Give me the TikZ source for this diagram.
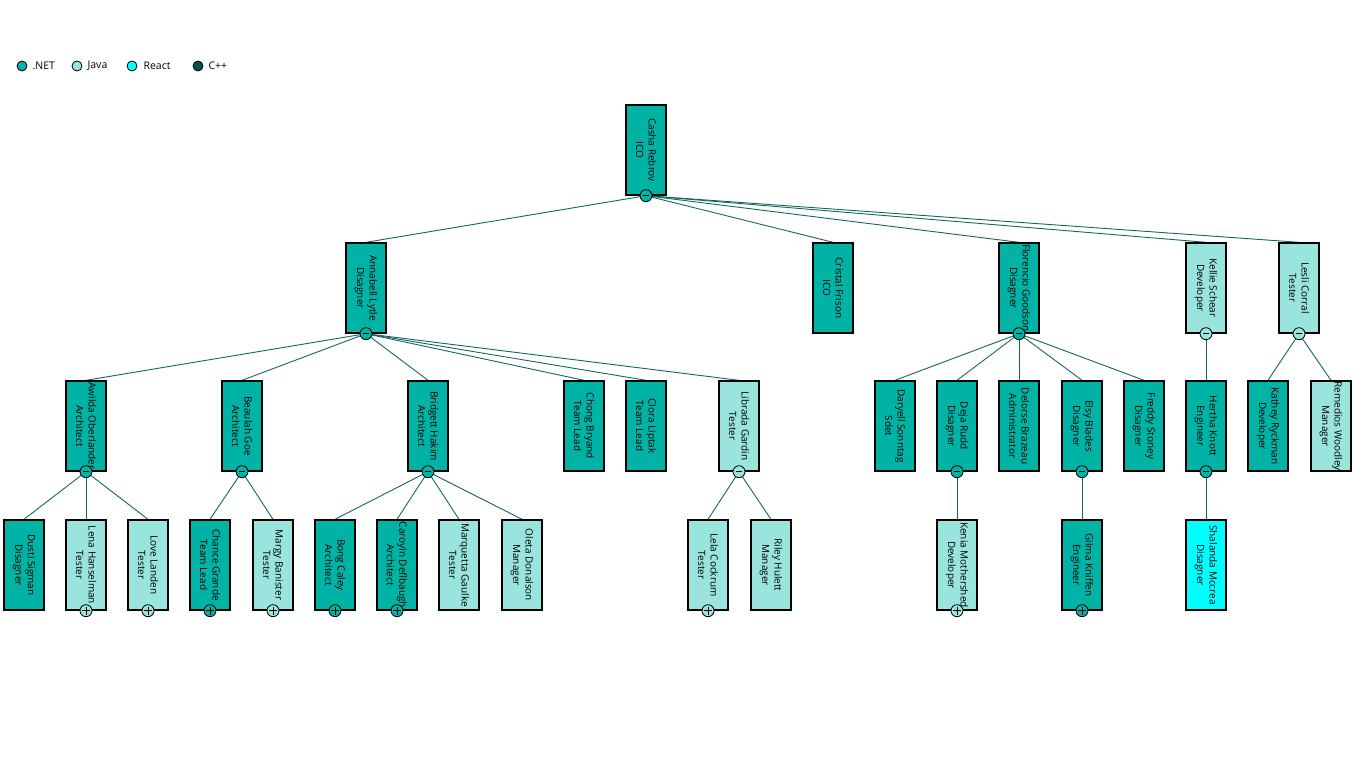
\documentclass[tikz,border=0pt]{standalone}
\usepackage{fontspec}
\setmainfont{Open Sans}
\usetikzlibrary{
  positioning,
  backgrounds
}

\definecolor{dotnet}{HTML}{01B3A5}
\definecolor{java}{HTML}{99E4DC}
\definecolor{react}{HTML}{00FFFF}
\definecolor{cpp}{HTML}{03544B}
\definecolor{wirecol}{HTML}{13675F}

\tikzset{
  card/.style={draw=black,line width=1.4pt,minimum width=40pt,minimum height=90pt,inner sep=0pt},
  net/.style={card,fill=dotnet},
  jv/.style={card,fill=java},
  rct/.style={card,fill=react},
  caption/.style={rotate=-90,align=center,inner sep=0pt,
    font=\fontsize{10}{12.5}\selectfont,text=black},
  btn/.style={circle,draw=black,line width=.8pt,minimum size=12pt,inner sep=0pt},
  wire/.style={draw=wirecol,line width=.9pt},
  key/.style={circle,draw=black,line width=.8pt,minimum size=10pt,inner sep=0pt},
  keytext/.style={inner sep=0pt,font=\fontsize{10.5}{12}\selectfont,text=black}
}

% box with its rotated caption
\newcommand{\emp}[5]{%
  \node[#4] (#1) at (#2,#3) {};
  \node[caption] (#1-txt) at (#1.center) {#5};}
% toggle buttons
\newcommand{\collapsebtn}[2]{%
  \node[btn,fill=#2] (#1-btn) at (#1.south) {};
  \draw[line width=.8pt] ([xshift=-3.2pt]#1-btn.center) -- ([xshift=3.2pt]#1-btn.center);}
\newcommand{\expandbtn}[2]{%
  \node[btn,fill=#2] (#1-btn) at (#1.south) {};
  \draw[line width=.8pt] ([xshift=-4pt]#1-btn.center) -- ([xshift=4pt]#1-btn.center)
    ([yshift=-4pt]#1-btn.center) -- ([yshift=4pt]#1-btn.center);}
\newcommand{\wireto}[2]{\draw[wire] (#1-btn.center) -- (#2.north);}

\begin{document}
\begin{tikzpicture}[x=1pt,y=-1pt]
  \useasboundingbox (0,0) rectangle (1366,768);

  % legend
  \node[key,fill=dotnet] (k-net) at (22,66) {};
  \node[keytext,right=5pt of k-net] (k-net-l) {.NET};
  \node[key,fill=java] (k-java) at (77,66) {};
  \node[keytext,right=5pt of k-java] (k-java-l) {Java};
  \node[key,fill=react] (k-react) at (132,66) {};
  \node[keytext,right=6pt of k-react] (k-react-l) {React};
  \node[key,fill=cpp] (k-cpp) at (198,66) {};
  \node[keytext,right=5pt of k-cpp] (k-cpp-l) {C++};

  % level 0
  \emp{casha}{646}{150}{net}{Casha Rebrov\\ICO}
  \collapsebtn{casha}{dotnet}

  % level 1
  \emp{annabell}{366}{288}{net}{Annabell Lytle\\Disagner}
  \collapsebtn{annabell}{dotnet}
  \emp{cristal}{833}{288}{net}{Cristal Frison\\ICO}
  \emp{florencio}{1019}{288}{net}{Florencio Goodson\\Disagner}
  \collapsebtn{florencio}{dotnet}
  \emp{kellie}{1206}{288}{jv}{Kellie Schear\\Developer}
  \collapsebtn{kellie}{java}
  \emp{lesli}{1299}{288}{jv}{Lesli Corral\\Tester}
  \collapsebtn{lesli}{java}

  % level 2
  \emp{awilda}{86}{426}{net}{Awilda Oberlander\\Architect}
  \collapsebtn{awilda}{dotnet}
  \emp{beaulah}{242}{426}{net}{Beaulah Goe\\Architect}
  \collapsebtn{beaulah}{dotnet}
  \emp{bridgett}{428}{426}{net}{Bridgett Hakim\\Architect}
  \collapsebtn{bridgett}{dotnet}
  \emp{chong}{584}{426}{net}{Chong Bryand\\Team Lead}
  \emp{clora}{646}{426}{net}{Clora Liptak\\Team Lead}
  \emp{librada}{739}{426}{jv}{Librada Gardin\\Tester}
  \collapsebtn{librada}{java}
  \emp{daryell}{895}{426}{net}{Daryell Sonntag\\Sdet}
  \emp{deja}{957}{426}{net}{Deja Rudd\\Disagner}
  \collapsebtn{deja}{dotnet}
  \emp{delorse}{1019}{426}{net}{Delorse Brazeau\\Administrator}
  \emp{elsy}{1082}{426}{net}{Elsy Blades\\Disagner}
  \collapsebtn{elsy}{dotnet}
  \emp{freddy}{1144}{426}{net}{Freddy Stoney\\Disagner}
  \emp{hertha}{1206}{426}{net}{Hertha Knott\\Engineer}
  \collapsebtn{hertha}{dotnet}
  \emp{kathey}{1268}{426}{net}{Kathey Ryckman\\Developer}
  \emp{remedios}{1331}{426}{jv}{Remedios Woodley\\Manager}

  % level 3
  \emp{dusti}{24}{565}{net}{Dusti Sigman\\Disagner}
  \emp{lena}{86}{565}{jv}{Lena Hanselman\\Tester}
  \expandbtn{lena}{java}
  \emp{love}{148}{565}{jv}{Love Landen\\Tester}
  \expandbtn{love}{java}
  \emp{chance}{210}{565}{net}{Chance Grande\\Team Lead}
  \expandbtn{chance}{dotnet}
  \emp{margy}{273}{565}{jv}{Margy Banister\\Tester}
  \expandbtn{margy}{java}
  \emp{bong}{335}{565}{net}{Bong Caley\\Architect}
  \expandbtn{bong}{dotnet}
  \emp{caroyln}{397}{565}{net}{Caroyln Deflbaugh\\Architect}
  \expandbtn{caroyln}{dotnet}
  \emp{marquetta}{459}{565}{jv}{Marquetta Gaulke\\Tester}
  \emp{oleta}{522}{565}{jv}{Oleta Donalson\\Manager}
  \emp{lela}{708}{565}{jv}{Lela Cockrum\\Tester}
  \expandbtn{lela}{java}
  \emp{riley}{771}{565}{jv}{Riley Hulett\\Manager}
  \emp{kenia}{957}{565}{jv}{Kenia Mothershed\\Developer}
  \expandbtn{kenia}{java}
  \emp{gilma}{1082}{565}{net}{Gilma Kniffen\\Engineer}
  \expandbtn{gilma}{dotnet}
  \emp{shalanda}{1206}{565}{rct}{Shalanda Mccrea\\Disagner}

  % connectors, behind the cards
  \begin{scope}[on background layer]
    \foreach \c in {annabell,cristal,florencio,kellie,lesli} {\wireto{casha}{\c}}
    \foreach \c in {awilda,beaulah,bridgett,chong,clora,librada} {\wireto{annabell}{\c}}
    \foreach \c in {daryell,deja,delorse,elsy,freddy} {\wireto{florencio}{\c}}
    \wireto{kellie}{hertha}
    \foreach \c in {kathey,remedios} {\wireto{lesli}{\c}}
    \foreach \c in {dusti,lena,love} {\wireto{awilda}{\c}}
    \foreach \c in {chance,margy} {\wireto{beaulah}{\c}}
    \foreach \c in {bong,caroyln,marquetta,oleta} {\wireto{bridgett}{\c}}
    \foreach \c in {lela,riley} {\wireto{librada}{\c}}
    \wireto{deja}{kenia}
    \wireto{elsy}{gilma}
    \wireto{hertha}{shalanda}
  \end{scope}
\end{tikzpicture}
\end{document}
